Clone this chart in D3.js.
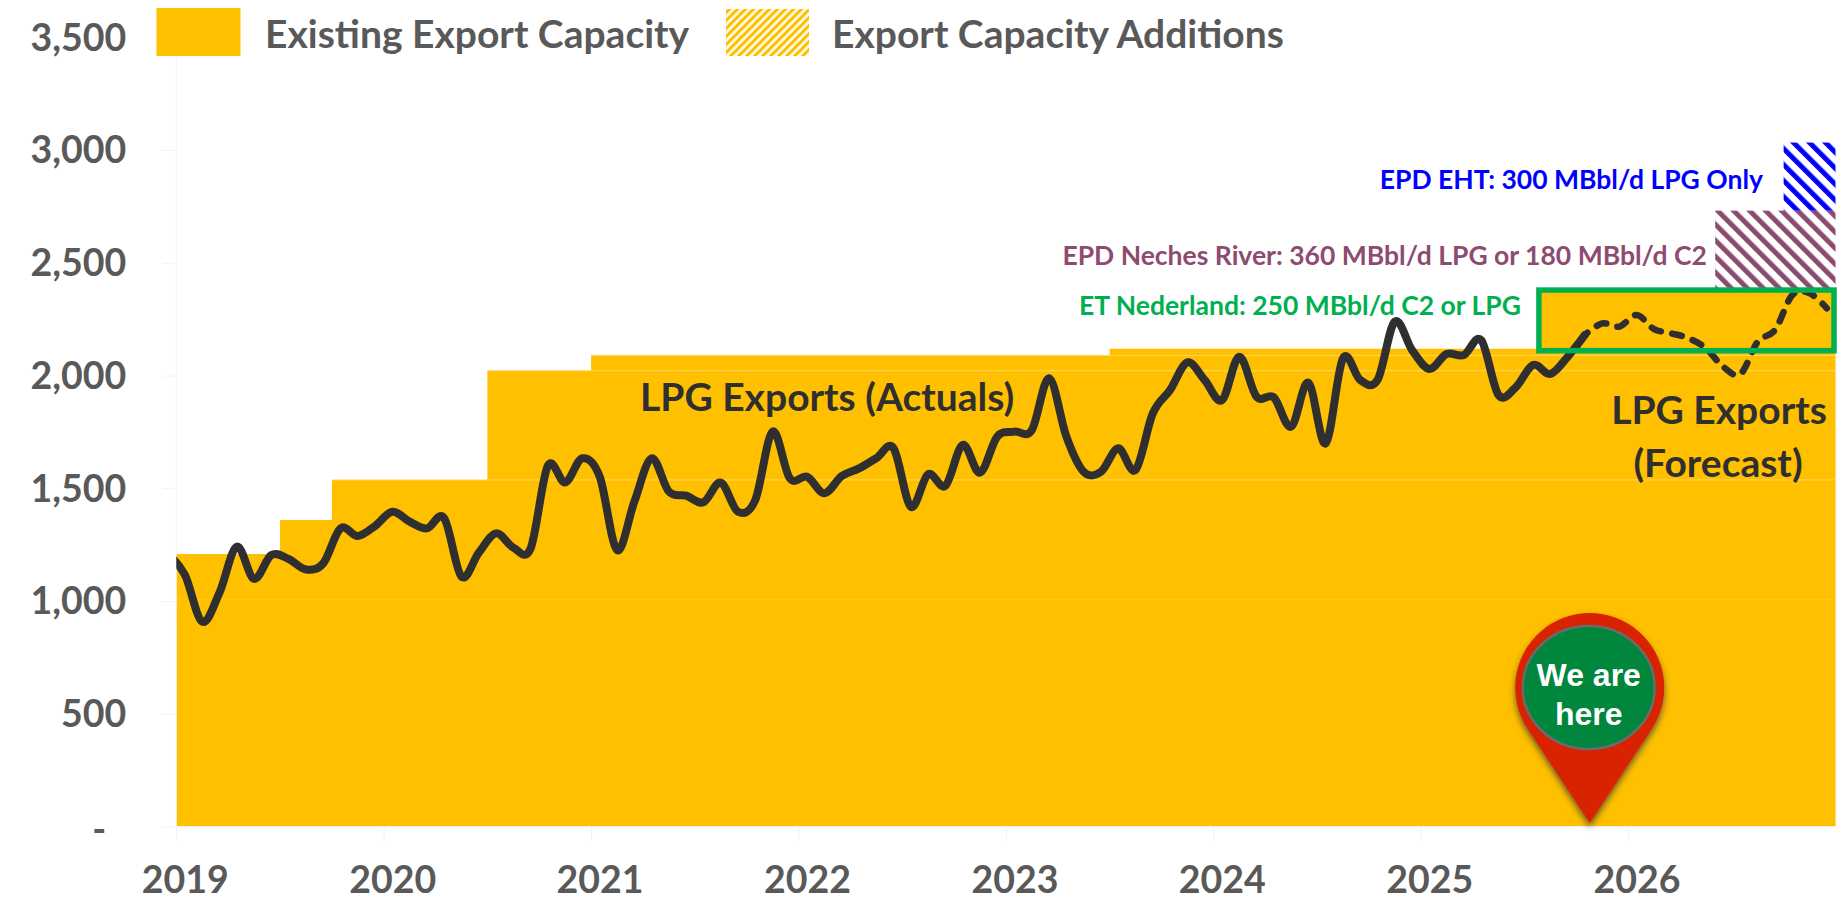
<!DOCTYPE html>
<html>
<head>
<meta charset="utf-8">
<script src="https://cdn.jsdelivr.net/npm/d3@7"></script>
<style>
    body { margin: 0; background: #fff; }
    text { font-family: Lato, "Open Sans", sans-serif; font-weight: 700; }
</style>
</head>
<body>
<script>
var width = 1845,
    height = 900;

// y axis + x axis labels
var yTicks = [0, 500, 1000, 1500, 2000, 2500, 3000, 3500];
var yearTicks = [2019, 2020, 2021, 2022, 2023, 2024, 2025, 2026];

// existing capacity steps, MBbl/d
var capacityStart = [2019, 2019.5, 2019.75, 2020.5, 2021, 2023.5];
var capacityValue = [1208, 1359, 1537, 2021, 2089, 2119];
var capacityEnd = 2027;

// faint seams between the stacked layers
var seamStart = [2019, 2019.75, 2020.5, 2021];
var seamValue = [1005, 1537, 2021, 2089];

// capacity additions
var addNames = ["ET Nederland", "EPD Neches River", "EPD EHT"];
var addStart = [2025.57, 2026.42, 2026.75];
var addBottom = [2119, 2370, 2731];
var addTop = [2370, 2731, 3033];

// exports by month, first value is Dec 2018 (clipped by the plot edge)
var actuals = [1211, 1115, 908, 1037, 1241, 1098, 1204, 1186, 1140, 1167, 1322, 1288, 1333,
    1396, 1352, 1322, 1367, 1108, 1214, 1300, 1237, 1233, 1600, 1526, 1633,
    1551, 1226, 1440, 1633, 1485, 1467, 1438, 1525, 1396, 1448, 1751, 1544,
    1551, 1478, 1554, 1588, 1633, 1677, 1418, 1562, 1511, 1692, 1569, 1729,
    1751, 1758, 1988, 1729, 1573, 1573, 1677, 1581, 1832, 1936, 2058, 1980,
    1891, 2083, 1906, 1903, 1773, 1968, 1699, 2076, 1980, 1980, 2239, 2113,
    2029, 2095, 2091, 2157, 1914, 1948, 2047, 2007, 2083, 2180];
// Nov 2025 to Dec 2026
var forecast = [2231, 2217, 2268, 2206, 2187, 2165, 2121, 2039, 2007, 2150, 2202, 2357, 2365, 2298];

var pinYear = 2025.815;

var x = d3.scaleLinear().domain([2019, 2027]).range([176.3, 1835.5]);
var y = d3.scaleLinear().domain([0, 3500]).range([826.5, 37.25]);

var svg = d3.select("body")
    .append("svg")
    .attr("width", width)
    .attr("height", height)
    .style("display", "block");

var defs = svg.append("defs");

defs.append("clipPath")
    .attr("id", "plot")
    .append("rect")
    .attr("x", x(2019))
    .attr("y", 0)
    .attr("width", x(2027) - x(2019))
    .attr("height", height);

//斜线填充
function hatch(id, color, period, stripe, angle) {
    var p = defs.append("pattern")
        .attr("id", id)
        .attr("patternUnits", "userSpaceOnUse")
        .attr("width", period)
        .attr("height", period)
        .attr("patternTransform", "rotate(" + angle + ")");
    p.append("rect")
        .attr("width", stripe)
        .attr("height", period)
        .attr("fill", color);
}
hatch("hatch-legend", "#FFC000", 5.66, 3.2, 45);
hatch("hatch-neches", "#8E4B70", 11.31, 5, -45);
hatch("hatch-eht", "#0000FF", 11.31, 5, -45);

var shadow = defs.append("filter")
    .attr("id", "pin-shadow")
    .attr("x", "-20%").attr("y", "-20%")
    .attr("width", "140%").attr("height", "140%");
shadow.append("feDropShadow")
    .attr("dx", 0).attr("dy", 4)
    .attr("stdDeviation", 3)
    .attr("flood-color", "#333")
    .attr("flood-opacity", 0.75);

/* ------- capacity -------*/
var steps = capacityStart.map(function (d, i) {
    return {year: d, value: capacityValue[i]};
});
steps.push({year: capacityEnd, value: capacityValue[capacityValue.length - 1]});

var area = d3.area()
    .curve(d3.curveStepAfter)
    .x(function (d) { return x(d.year); })
    .y0(y(0))
    .y1(function (d) { return y(d.value); });

svg.append("path")
    .attr("d", area(steps))
    .attr("fill", "#FFC000");

svg.selectAll("line.seam")
    .data(seamValue)
    .enter()
    .append("line")
    .attr("class", "seam")
    .attr("x1", function (d, i) { return x(seamStart[i]); })
    .attr("x2", x(capacityEnd))
    .attr("y1", function (d) { return y(d); })
    .attr("y2", function (d) { return y(d); })
    .attr("stroke", "#FFD766")
    .attr("stroke-opacity", function (d, i) { return i === 0 ? 0.35 : 1; })
    .attr("stroke-width", 1);

/* ------- additions -------*/
var addFill = ["#FFC000", "url(#hatch-neches)", "url(#hatch-eht)"];
svg.selectAll("rect.addition")
    .data(addNames)
    .enter()
    .append("rect")
    .attr("class", "addition")
    .attr("x", function (d, i) { return x(addStart[i]); })
    .attr("y", function (d, i) { return y(addTop[i]); })
    .attr("width", function (d, i) { return x(capacityEnd) - x(addStart[i]); })
    .attr("height", function (d, i) { return y(addBottom[i]) - y(addTop[i]); })
    .attr("fill", function (d, i) { return addFill[i]; });

/* ------- axes -------*/
var yAxis = d3.axisLeft(y)
    .tickValues(yTicks)
    .tickSize(14)
    .tickPadding(36)
    .tickFormat(function (d) { return d === 0 ? "-" : d3.format(",")(d); });

var yG = svg.append("g")
    .attr("transform", "translate(" + x(2019) + ",0)")
    .call(yAxis);

var xAxis = d3.axisBottom(x)
    .tickValues(yearTicks)
    .tickSize(14)
    .tickPadding(26)
    .tickFormat(d3.format("d"));

var xG = svg.append("g")
    .attr("transform", "translate(0," + y(0) + ")")
    .call(xAxis);

svg.selectAll(".domain").attr("stroke", "#F2F2F2");
svg.selectAll(".tick line").attr("stroke", "#F2F2F2");
svg.selectAll(".tick text")
    .attr("fill", "#595959")
    .style("font-size", "37.5px");
xG.selectAll(".tick text").attr("dx", 8.5);
yG.selectAll(".tick text").attr("dy", "0.34em");
yG.selectAll(".tick text")
    .filter(function (d) { return d === 0; })
    .attr("dx", -20)
    .attr("dy", "0.42em");
// no ticks above the top one, axis line starts under the legend
yG.select(".domain").attr("d", "M0," + 55 + "V" + y(0));
xG.select(".domain").attr("d", "M" + x(2019) + ",0H" + x(2027));

/* ------- exports -------*/
var actualPts = actuals.map(function (d, i) {
    return {year: 2019 + (i - 0.5) / 12, value: d};
});
var forecastPts = [actualPts[actualPts.length - 1]].concat(forecast.map(function (d, i) {
    return {year: 2019 + (actuals.length - 0.5 + i) / 12, value: d};
}));

var line = d3.line()
    .curve(d3.curveCardinal.tension(0))
    .x(function (d) { return x(d.year); })
    .y(function (d) { return y(d.value); });

var lines = svg.append("g")
    .attr("clip-path", "url(#plot)")
    .attr("fill", "none")
    .attr("stroke", "#2F2F2F")
    .attr("stroke-linecap", "round")
    .attr("stroke-linejoin", "round");

lines.append("path")
    .attr("d", line(actualPts))
    .attr("stroke-width", 8);
lines.append("path")
    .attr("d", line(forecastPts))
    .attr("stroke-width", 6.5)
    .attr("stroke-dasharray", "10,11.5")
    .attr("stroke-dashoffset", -15);

// ET Nederland box
svg.append("rect")
    .attr("x", x(addStart[0]))
    .attr("y", y(addTop[0]) - 2)
    .attr("width", x(capacityEnd) - x(addStart[0]) - 1.5)
    .attr("height", y(addBottom[0]) - y(addTop[0]) + 4)
    .attr("fill", "none")
    .attr("stroke", "#00B050")
    .attr("stroke-width", 5.5);

/* ------- legend -------*/
svg.append("rect")
    .attr("x", 156.5).attr("y", 8)
    .attr("width", 84).attr("height", 48)
    .attr("fill", "#FFC000");
svg.append("rect")
    .attr("x", 726).attr("y", 9)
    .attr("width", 83).attr("height", 47)
    .attr("fill", "url(#hatch-legend)");

var legendLabels = ["Existing Export Capacity", "Export Capacity Additions"];
var legendX = [265, 832];
svg.selectAll("text.legend")
    .data(legendLabels)
    .enter()
    .append("text")
    .attr("class", "legend")
    .attr("x", function (d, i) { return legendX[i]; })
    .attr("y", 48)
    .attr("fill", "#595959")
    .style("font-size", "39px")
    .text(function (d) { return d; });

/* ------- annotations -------*/
var notes = [
    {text: "EPD EHT: 300 MBbl/d LPG Only", x: 1763, y: 189, size: 26.5, color: "#0000FF", anchor: "end"},
    {text: "EPD Neches River: 360 MBbl/d LPG or 180 MBbl/d C2", x: 1707, y: 265, size: 26.5, color: "#8E4B70", anchor: "end"},
    {text: "ET Nederland: 250 MBbl/d C2 or LPG", x: 1521, y: 315, size: 26.5, color: "#00B050", anchor: "end"},
    {text: "LPG Exports (Actuals)", x: 640, y: 411, size: 39, color: "#2F2F2F", anchor: "start"},
    {text: "LPG Exports", x: 1719, y: 424, size: 39, color: "#2F2F2F", anchor: "middle"},
    {text: "(Forecast)", x: 1718, y: 477, size: 39, color: "#2F2F2F", anchor: "middle"}
];
svg.selectAll("text.note")
    .data(notes)
    .enter()
    .append("text")
    .attr("class", "note")
    .attr("x", function (d) { return d.x; })
    .attr("y", function (d) { return d.y; })
    .attr("text-anchor", function (d) { return d.anchor; })
    .attr("fill", function (d) { return d.color; })
    .style("font-size", function (d) { return d.size + "px"; })
    .text(function (d) { return d.text; });

/* ------- pin -------*/
var pinX = x(pinYear),
    tipY = y(0) - 3.5,
    r = 74.5,
    cy = tipY - 135.5,
    // tangent points from the tip to the circle
    a = Math.acos(r / (tipY - cy)),
    tx = r * Math.sin(a),
    ty = cy + r * Math.cos(a);

var pin = svg.append("g");
pin.append("path")
    .attr("d", "M" + pinX + "," + tipY +
        "L" + (pinX - tx) + "," + ty +
        "A" + r + "," + r + " 0 1 1 " + (pinX + tx) + "," + ty + "Z")
    .attr("fill", "#D92300")
    .attr("filter", "url(#pin-shadow)");
pin.append("ellipse")
    .attr("cx", pinX - 1)
    .attr("cy", cy)
    .attr("rx", 66)
    .attr("ry", 61.5)
    .attr("fill", "#00863D")
    .attr("stroke", "#6B6B6B")
    .attr("stroke-width", 2.5);
pin.selectAll("text")
    .data(["We are", "here"])
    .enter()
    .append("text")
    .attr("x", pinX - 1)
    .attr("y", function (d, i) { return cy - 2 + i * 39; })
    .attr("text-anchor", "middle")
    .attr("fill", "#fff")
    .style("font-family", "'Liberation Sans', Arial, sans-serif")
    .style("font-size", "32px")
    .text(function (d) { return d; });
</script>
</body>
</html>
